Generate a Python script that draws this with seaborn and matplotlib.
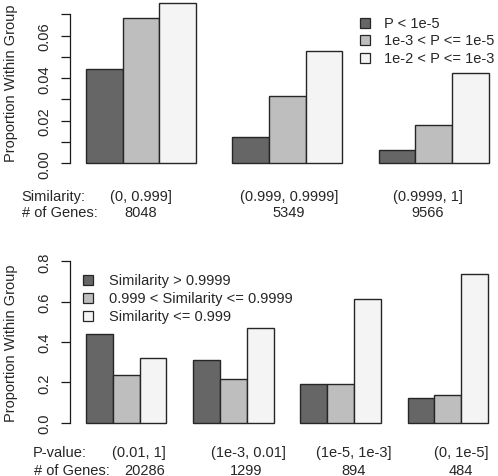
import matplotlib
matplotlib.use("Agg")
import matplotlib.pyplot as plt
from matplotlib.patches import Rectangle
import seaborn as sns
import pandas as pd
import numpy as np

# ---- data ----
sim_groups = ["(0, 0.999]", "(0.999, 0.9999]", "(0.9999, 1]"]
sim_genes = ["8048", "5349", "9566"]
p_series = ["P < 1e-5", "1e-3 < P <= 1e-5", "1e-2 < P <= 1e-3"]
top_vals_p1 = [0.0441, 0.0123, 0.0062]
top_vals_p2 = [0.0681, 0.0316, 0.0181]
top_vals_p3 = [0.0754, 0.0529, 0.0424]

p_groups = ["(0.01, 1]", "(1e-3, 0.01]", "(1e-5, 1e-3]", "(0, 1e-5]"]
p_genes = ["20286", "1299", "894", "484"]
s_series = ["Similarity > 0.9999", "0.999 < Similarity <= 0.9999", "Similarity <= 0.999"]
bot_vals_s1 = [0.440, 0.311, 0.193, 0.122]
bot_vals_s2 = [0.237, 0.215, 0.190, 0.136]
bot_vals_s3 = [0.322, 0.468, 0.615, 0.739]

colors = ["#666666", "#bebebe", "#f4f4f4"]
edge = "#262626"

sns.set_style("white")
plt.rcParams["font.family"] = ["Liberation Sans", "DejaVu Sans"]
FS = 10.5

W, H = 498, 477
fig = plt.figure(figsize=(W / 100, H / 100), dpi=100)


def fx(px):
    return px / W


def fy(py):
    return 1 - py / H


def make_axes(left, right, top, bottom):
    return fig.add_axes([fx(left), fy(bottom), fx(right) - fx(left), fy(top) - fy(bottom)])


# ---- top panel ----
top_df = pd.DataFrame({
    "group": sim_groups * 3,
    "series": [p_series[0]] * 3 + [p_series[1]] * 3 + [p_series[2]] * 3,
    "value": top_vals_p1 + top_vals_p2 + top_vals_p3,
})
ax1 = make_axes(70, 498, 9.2, 170.3)
sns.barplot(data=top_df, x="group", y="value", hue="series", order=sim_groups,
            hue_order=p_series, palette=colors, saturation=1, width=0.75,
            edgecolor=edge, linewidth=1.0, legend=False, ax=ax1, errorbar=None)
zero1, ppu1 = 164.3, 2127.0
ax1.set_ylim(-(170.3 - zero1) / ppu1, (zero1 - 9.2) / ppu1)
ax1.set_xlim(-0.484, 2.439)
ax1.set_yticks(np.arange(0, 0.0701, 0.01))
ax1.set_yticklabels(["0.00", "", "0.02", "", "0.04", "", "0.06", ""])
ax1.spines["left"].set_bounds(0, 0.07)

# ---- bottom panel ----
bot_df = pd.DataFrame({
    "group": p_groups * 3,
    "series": [s_series[0]] * 4 + [s_series[1]] * 4 + [s_series[2]] * 4,
    "value": bot_vals_s1 + bot_vals_s2 + bot_vals_s3,
})
ax2 = make_axes(70, 498, 256, 430)
sns.barplot(data=bot_df, x="group", y="value", hue="series", order=p_groups,
            hue_order=s_series, palette=colors, saturation=1, width=0.75,
            edgecolor=edge, linewidth=1.0, legend=False, ax=ax2, errorbar=None)
zero2, ppu2 = 423.7, 201.6
ax2.set_ylim(-(430 - zero2) / ppu2, (zero2 - 256) / ppu2)
ax2.set_xlim(-0.524, 3.469)
ax2.set_yticks([0.0, 0.2, 0.4, 0.6, 0.8])
ax2.set_yticklabels(["0.0", "0.2", "0.4", "0.6", "0.8"])
ax2.spines["left"].set_bounds(0, 0.8)

for ax in (ax1, ax2):
    for p in ax.patches:
        p.set_clip_on(False)
    for s in ("top", "right", "bottom"):
        ax.spines[s].set_visible(False)
    ax.spines["left"].set_color("#1a1a1a")
    ax.spines["left"].set_linewidth(0.9)
    ax.set_xticks([])
    ax.set_xlabel("")
    ax.set_ylabel("")
    ax.tick_params(axis="y", direction="out", length=6.5, width=0.9, color="#1a1a1a",
                   pad=7, labelsize=FS, left=True)
    for lab in ax.get_yticklabels():
        lab.set_rotation(90)
        lab.set_va("center")
        lab.set_ha("right")
    ax.patch.set_alpha(0)

ax1.set_ylabel("Proportion Within Group", fontsize=FS)
ax1.yaxis.set_label_coords((11 - 70) / 428, (170.3 - 83) / 161.1)
ax2.set_ylabel("Proportion Within Group", fontsize=FS)
ax2.yaxis.set_label_coords((11 - 70) / 428, (430 - 343) / 174)
for ax in (ax1, ax2):
    ax.yaxis.label.set_va("center")
    ax.yaxis.label.set_ha("center")

# ---- category annotations ----
def ftext(px, py, s, ha="center"):
    fig.text(fx(px), fy(py), s, ha=ha, va="baseline", fontsize=FS)

ftext(21.7, 200.7, "Similarity:", ha="left")
ftext(21.7, 217.0, "# of Genes:", ha="left")
for cx, g, n in zip([141, 289, 428], sim_groups, sim_genes):
    ftext(cx, 200.7, g)
    ftext(cx, 217.0, n)

ftext(33, 457.0, "P-value:", ha="left")
ftext(34, 475.0, "# of Genes:", ha="left")
for cx1, cx2, g, n in zip([139, 248, 354, 461], [145, 246, 354, 461], p_groups, p_genes):
    ftext(cx1, 457.0, g)
    ftext(cx2, 475.0, n)

# ---- legends ----
def legend(x_sq, x_txt, rows, labels):
    for y, lab, c in zip(rows, labels, colors):
        fig.add_artist(Rectangle((fx(x_sq), fy(y + 5)), fx(10), 10 / H,
                                 transform=fig.transFigure, facecolor=c,
                                 edgecolor=edge, linewidth=0.9))
        fig.text(fx(x_txt), fy(y), lab, ha="left", va="center", fontsize=FS)

legend(359.5, 384, [23.5, 41.0, 59.0], p_series)
legend(83.3, 109.3, [280.7, 299.3, 316.7], s_series)

fig.savefig("out.png", dpi=100)
